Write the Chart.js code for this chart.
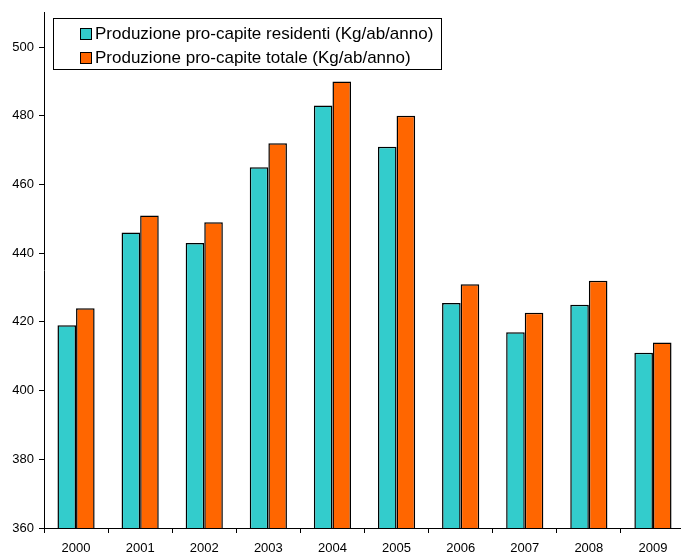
<!DOCTYPE html>
<html>
<head>
<meta charset="utf-8">
<script src="https://cdn.jsdelivr.net/npm/chart.js@4/dist/chart.umd.min.js"></script>
<style>
  html, body { margin: 0; padding: 0; background: #fff; overflow: hidden; }
  #wrap { width: 690px; height: 553px; position: relative; }
</style>
</head>
<body>
<div id="wrap"><canvas id="c"></canvas></div>
<script>
const years = ['2000','2001','2002','2003','2004','2005','2006','2007','2008','2009'];
const residenti = [419, 446, 443, 465, 483, 471, 425.5, 417, 425, 411];
const totale    = [424, 451, 449, 472, 490, 480, 431, 422.7, 432, 414];
const seriesNames = [
  'Produzione pro-capite residenti (Kg/ab/anno)',
  'Produzione pro-capite totale (Kg/ab/anno)'
];
const seriesColors = ['#33CCCC', '#FF6600'];

const FONT = '"Liberation Sans", Arial, sans-serif';

// Boxed legend drawn in the upper-left corner of the plot area
const boxLegend = {
  id: 'boxLegend',
  afterDraw(chart) {
    const ctx = chart.ctx;
    const x = 53, y = 18, w = 388, h = 51;
    ctx.save();
    ctx.fillStyle = '#fff';
    ctx.fillRect(x, y, w, h);
    ctx.strokeStyle = '#000';
    ctx.lineWidth = 1;
    ctx.strokeRect(x + 0.5, y + 0.5, w, h);
    ctx.font = '17px ' + FONT;
    ctx.textBaseline = 'middle';
    chart.data.datasets.forEach((ds, i) => {
      const cy = y + 15 + i * 24;
      ctx.fillStyle = ds.backgroundColor;
      ctx.fillRect(80, cy - 5, 11, 11);
      ctx.strokeStyle = '#000';
      ctx.strokeRect(80.5, cy - 4.5, 11, 11);
      ctx.fillStyle = '#000';
      ctx.fillText(ds.label, 95, cy + 1);
    });
    ctx.restore();
  }
};

new Chart(document.getElementById('c'), {
  type: 'bar',
  data: {
    labels: years,
    datasets: [
      { label: seriesNames[0], data: residenti, backgroundColor: seriesColors[0],
        borderColor: '#000', borderWidth: 1.5, borderSkipped: 'bottom' },
      { label: seriesNames[1], data: totale, backgroundColor: seriesColors[1],
        borderColor: '#000', borderWidth: 1.5, borderSkipped: 'bottom' }
    ]
  },
  options: {
    responsive: true,
    maintainAspectRatio: false,
    animation: false,
    layout: { padding: { left: 0, right: 5, top: 12, bottom: 0 } },
    datasets: { bar: { categoryPercentage: 0.58, barPercentage: 1.0 } },
    plugins: { legend: { display: false }, tooltip: { enabled: false } },
    scales: {
      x: {
        grid: { display: true, offset: true, drawOnChartArea: false, drawTicks: true,
                tickLength: 5, color: '#000', lineWidth: 1 },
        border: { display: true, color: '#000', width: 1 },
        ticks: { color: '#000', font: { family: FONT, size: 13 }, padding: 8, maxRotation: 0 },
        afterFit(s) { s.height = 25; }
      },
      y: {
        min: 360, max: 510,
        grid: { display: true, drawOnChartArea: false, drawTicks: true, tickLength: 5,
                color: '#000', lineWidth: 1 },
        border: { display: true, color: '#000', width: 1 },
        ticks: { stepSize: 20, color: '#000', font: { family: FONT, size: 13 }, padding: 5 },
        afterBuildTicks(s) { s.ticks = s.ticks.filter(t => t.value <= 500); },
        afterFit(s) { s.width = 44; }
      }
    }
  },
  plugins: [boxLegend]
});
</script>
</body>
</html>
